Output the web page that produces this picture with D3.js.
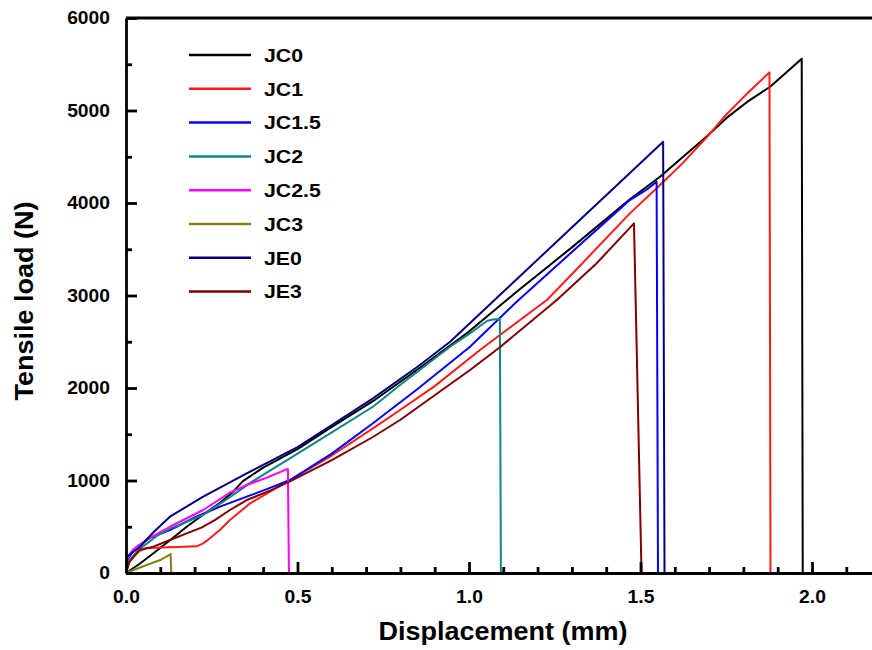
<!DOCTYPE html>
<html>
<head>
<meta charset="utf-8">
<script src="https://cdn.jsdelivr.net/npm/d3@7"></script>
<style>
body { margin: 0; background: #fff; }
svg { display: block; font-family: "Liberation Sans", Arial, sans-serif; }
</style>
</head>
<body>
<svg></svg>
<script>
// frame
const width = 872;
const height = 650;
const plotLeft = 126;
const plotTop = 18;
const plotBottom = 573;
const pxPerMm = 343;

// data: [displacement mm, load N]
const seriesNames = ['JC0', 'JC1', 'JC1.5', 'JC2', 'JC2.5', 'JC3', 'JE0', 'JE3'];
const seriesColors = ['#000000', '#ff1a1a', '#0000ff', '#108585', '#ff00ff', '#828214', '#000080', '#800000'];

const jc0 = [[0,0],[0.04,100],[0.08,213],[0.13,360],[0.177,500],[0.225,630],[0.274,760],[0.31,870],[0.34,990],[0.4,1140],[0.5,1340],[0.6,1580],[0.721,1860],[0.85,2200],[1.0,2610],[1.139,3041],[1.3,3520],[1.469,4040],[1.557,4284],[1.615,4470],[1.693,4720],[1.751,4920],[1.81,5090],[1.878,5257],[1.97,5560],[1.973,0],[2.05,0]];
const jc1 = [[0,0],[0.008,110],[0.021,176],[0.04,240],[0.06,267],[0.1,275],[0.15,280],[0.206,288],[0.225,320],[0.245,375],[0.275,470],[0.303,573],[0.362,753],[0.42,880],[0.478,1005],[0.6,1270],[0.721,1567],[0.799,1762],[0.9,2020],[1.032,2411],[1.227,2951],[1.3,3230],[1.469,3888],[1.557,4194],[1.62,4420],[1.693,4710],[1.751,4960],[1.81,5180],[1.876,5412],[1.879,0],[2.05,0]];
const jc15 = [[0,0],[0.005,150],[0.03,280],[0.07,380],[0.128,465],[0.2,600],[0.274,717],[0.352,825],[0.42,920],[0.478,1005],[0.6,1290],[0.721,1621],[0.85,1990],[1.003,2446],[1.139,2933],[1.3,3470],[1.469,4032],[1.52,4150],[1.547,4230],[1.551,0],[1.707,0]];
const jc2 = [[0,0],[0.008,130],[0.04,260],[0.09,400],[0.128,480],[0.225,627],[0.303,820],[0.362,975],[0.5,1290],[0.6,1520],[0.721,1800],[0.799,2032],[0.945,2446],[1.003,2591],[1.052,2724],[1.07,2740],[1.09,2746],[1.093,0],[1.285,0]];
const jc25 = [[0,0],[0.002,150],[0.02,250],[0.06,360],[0.128,500],[0.225,681],[0.303,868],[0.352,951],[0.41,1030],[0.463,1113],[0.472,1124],[0.475,0],[0.516,0]];
const jc3 = [[0,0],[0.06,86],[0.1,140],[0.13,205],[0.132,0],[0.163,0]];
const je0 = [[0,0],[0.003,176],[0.041,284],[0.08,440],[0.128,609],[0.225,825],[0.352,1078],[0.5,1360],[0.6,1600],[0.721,1890],[0.85,2230],[0.945,2500],[1.1,3040],[1.25,3562],[1.4,4084],[1.566,4662],[1.57,0],[1.6,0]];
const je3 = [[0,0],[0.01,120],[0.04,250],[0.08,285],[0.13,360],[0.177,429],[0.22,490],[0.26,575],[0.303,681],[0.352,789],[0.42,890],[0.478,990],[0.6,1220],[0.721,1473],[0.799,1654],[1.003,2194],[1.09,2440],[1.256,2951],[1.37,3340],[1.481,3780],[1.503,0],[1.55,0]];
const seriesData = [jc0, jc1, jc15, jc2, jc25, jc3, je0, je3];

// ticks
const xTicks = [0, 0.5, 1.0, 1.5, 2.0];
const xMinorTicks = [0.1, 0.2, 0.3, 0.4, 0.6, 0.7, 0.8, 0.9, 1.1, 1.2, 1.3, 1.4, 1.6, 1.7, 1.8, 1.9, 2.1];
const yTicks = [0, 1000, 2000, 3000, 4000, 5000, 6000];
const yMinorTicks = [500, 1500, 2500, 3500, 4500, 5500];

let xScale
let yScale

let svg = d3.select('svg')

function drawCanvas() {
    svg.attr('width', width)
    svg.attr('height', height)
}

function generateScales() {
    xScale = d3.scaleLinear()
        .domain([0, 2.2])
        .range([plotLeft, plotLeft + 2.2 * pxPerMm]);
    yScale = d3.scaleLinear()
        .domain([0, 6000])
        .range([plotBottom, plotTop]);
}

function styleAxis(g) {
    g.select('.domain').attr('stroke', '#000').attr('stroke-width', 2.8);
    g.selectAll('.tick line').attr('stroke', '#000').attr('stroke-width', 2.8);
    g.selectAll('text')
        .attr('fill', '#000')
        .style('font-size', '18px')
        .style('font-weight', 'bold')
        .attr('transform', 'scale(1.07,1)');
}

function generateAxes() {
    // minor ticks first, no labels
    svg.append('g')
        .attr('transform', 'translate(0,' + plotBottom + ')')
        .call(d3.axisBottom(xScale).tickValues(xMinorTicks).tickSize(-6).tickFormat(''))
        .call(g => g.select('.domain').remove())
        .call(g => g.selectAll('.tick line').attr('stroke', '#000').attr('stroke-width', 2.8));

    svg.append('g')
        .attr('transform', 'translate(' + plotLeft + ',0)')
        .call(d3.axisLeft(yScale).tickValues(yMinorTicks).tickSize(-6).tickFormat(''))
        .call(g => g.select('.domain').remove())
        .call(g => g.selectAll('.tick line').attr('stroke', '#000').attr('stroke-width', 2.8));

    svg.append('g')
        .attr('id', 'x-axis')
        .attr('transform', 'translate(0,' + plotBottom + ')')
        .call(d3.axisBottom(xScale).tickValues(xTicks).tickSizeInner(-11).tickSizeOuter(0)
            .tickPadding(17).tickFormat(d3.format('.1f')))
        .call(styleAxis);

    svg.append('g')
        .attr('id', 'y-axis')
        .attr('transform', 'translate(' + plotLeft + ',0)')
        .call(d3.axisLeft(yScale).tickValues(yTicks).tickSizeInner(-11).tickSizeOuter(0)
            .tickPadding(15).tickFormat(d3.format('d')))
        .call(styleAxis);

    // top and right frame
    svg.append('line')
        .attr('x1', xScale(0)).attr('x2', xScale(2.2))
        .attr('y1', yScale(6000)).attr('y2', yScale(6000))
        .attr('stroke', '#000').attr('stroke-width', 2.8);
    svg.append('line')
        .attr('x1', xScale(2.2)).attr('x2', xScale(2.2))
        .attr('y1', yScale(0)).attr('y2', yScale(6000))
        .attr('stroke', '#000').attr('stroke-width', 2.8);

    svg.append('text')
        .attr('transform', 'translate(' + 503 + ',' + 640 + ') scale(1.08,1)')
        .attr('text-anchor', 'middle')
        .style('font-size', '25px')
        .style('font-weight', 'bold')
        .text('Displacement (mm)');

    svg.append('text')
        .attr('transform', 'translate(' + 33 + ',' + 301 + ') rotate(-90) scale(1.08,1)')
        .attr('text-anchor', 'middle')
        .style('font-size', '25px')
        .style('font-weight', 'bold')
        .text('Tensile load (N)');
}

function drawLines() {
    let line = d3.line()
        .x(d => xScale(d[0]))
        .y(d => yScale(d[1]));

    svg.append('g')
        .selectAll('path')
        .data(seriesData)
        .enter()
        .append('path')
        .attr('d', line)
        .attr('fill', 'none')
        .attr('stroke', (d, i) => seriesColors[i])
        .attr('stroke-width', 2)
        .attr('stroke-linejoin', 'round');
}

function drawLegend() {
    let legend = svg.append('g')
        .selectAll('g')
        .data(seriesNames)
        .enter()
        .append('g')
        .attr('transform', (d, i) => 'translate(0,' + (55 + i * 33.8) + ')');

    legend.append('line')
        .attr('x1', 189).attr('x2', 251)
        .attr('stroke', (d, i) => seriesColors[i])
        .attr('stroke-width', 2.5);

    legend.append('text')
        .attr('transform', 'translate(264,0) scale(1.12,1)')
        .attr('dy', '0.36em')
        .style('font-size', '19px')
        .style('font-weight', 'bold')
        .text(d => d);
}

function main() {
    drawCanvas();
    generateScales();
    drawLines();
    generateAxes();
    drawLegend();
}

main()
</script>
</body>
</html>
